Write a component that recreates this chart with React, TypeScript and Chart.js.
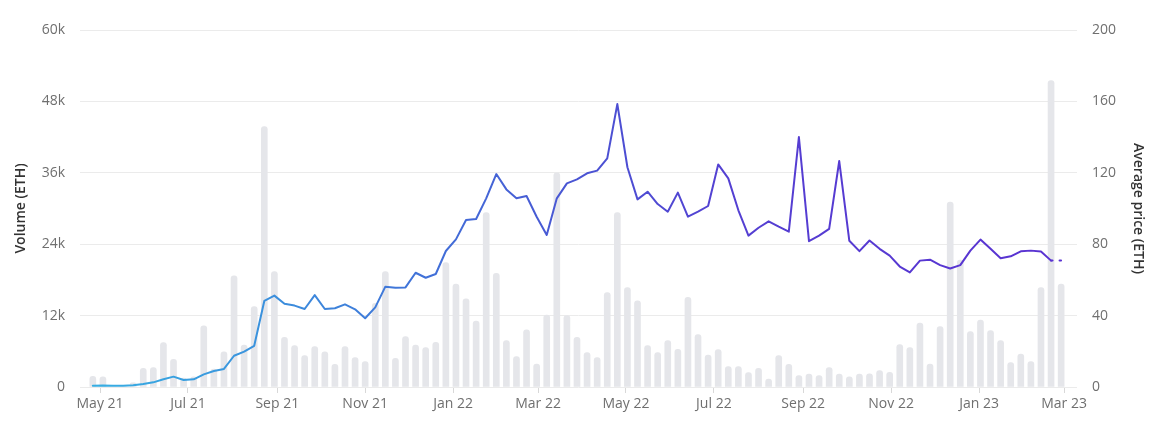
import React, { useEffect, useRef } from 'react';
import { Chart, registerables } from 'chart.js';

Chart.register(...registerables);

// First week of the series (weekly buckets)
const START_DATE = '2021-04-26';

// Weekly trading volume (ETH)
const volume = [
  1800, 1700, 0, 0, 700, 3150, 3250, 7450, 4650, 1500,
  1700, 10300, 3000, 5900, 18700, 7050, 13500, 43750, 19400, 8350,
  6950, 5270, 6780, 5930, 3810, 6780, 4930, 4260, 14060, 19400,
  4820, 8460, 7060, 6610, 7510, 20900, 17300, 14800, 11100, 29300,
  19100, 7800, 5100, 9600, 3870, 12100, 36000, 12000, 8350, 5770,
  4930, 15850, 29300, 16700, 14500, 6950, 5770, 7790, 6330, 15050,
  8800, 5380, 6280, 3420, 3420, 2430, 3150, 1340, 5270, 3810,
  1900, 2180, 1900, 3250, 2180, 1730, 2180, 2200, 2740, 2460,
  7150, 6640, 10750, 3840, 10140, 31100, 21350, 9300, 11260, 9470,
  7790, 4090, 5550, 4260, 16700, 51500, 17300,
];

// Weekly average price (ETH)
const price = [
  0.7, 0.8, 0.7, 0.7, 1.0, 1.7, 2.6, 4.3, 5.8, 3.9,
  4.3, 7.1, 9.0, 10.1, 17.5, 19.8, 23.1, 48.2, 51.2, 46.6,
  45.6, 43.7, 51.5, 43.7, 44.1, 46.3, 43.5, 38.5, 44.6, 56.2,
  55.6, 55.8, 64.0, 61.2, 63.3, 76.2, 82.7, 93.6, 94.1, 105.7,
  119.3, 110.7, 105.7, 107.0, 95.4, 85.2, 105.7, 114.1, 116.3, 119.7,
  121.2, 128.1, 158.5, 123.1, 105.1, 109.4, 102.5, 98.2, 108.9, 95.4,
  98.2, 101.4, 124.7, 116.9, 99.0, 84.8, 89.2, 92.8, 89.8, 87.0,
  140.0, 81.7, 84.8, 88.6, 126.6, 81.9, 76.1, 82.1, 77.4, 73.6,
  67.5, 64.2, 70.8, 71.3, 68.3, 66.4, 68.3, 76.4, 82.6, 77.4,
  72.1, 73.2, 76.0, 76.4, 75.9, 70.8, 70.8,
];

// X-axis tick dates and their labels
const tickDates = [
  '2021-05-01', '2021-07-01', '2021-09-01', '2021-11-01',
  '2022-01-01', '2022-03-01', '2022-05-01', '2022-07-01',
  '2022-09-01', '2022-11-01', '2023-01-01', '2023-03-01',
];
const tickLabels = [
  'May 21', 'Jul 21', 'Sep 21', 'Nov 21', 'Jan 22', 'Mar 22',
  'May 22', 'Jul 22', 'Sep 22', 'Nov 22', 'Jan 23', 'Mar 23',
];

const volumeTicks = [0, 12000, 24000, 36000, 48000, 60000];
const priceTicks = [0, 40, 80, 120, 160, 200];

const DAY_MS = 86400000;
const toDay = (s: string) =>
  (Date.parse(s + 'T00:00:00Z') - Date.parse(START_DATE + 'T00:00:00Z')) / DAY_MS;
const weekX = volume.map((_, i) => i * 7);
const tickX = tickDates.map(toDay);

const FONT = "'Open Sans', sans-serif";
const TICK_COLOR = '#6f6f6f';

export default function App() {
  const ref = useRef<HTMLCanvasElement | null>(null);

  useEffect(() => {
    if (!ref.current) return;
    const last = price.length - 1;
    const chart = new Chart(ref.current, {
      type: 'bar',
      data: {
        datasets: [
          {
            type: 'line',
            label: 'Average price (ETH)',
            data: weekX.map((x, i) => ({ x, y: price[i] })),
            yAxisID: 'y1',
            order: 0,
            borderWidth: 2,
            pointRadius: 0,
            pointHoverRadius: 0,
            tension: 0,
            borderJoinStyle: 'round',
            borderCapStyle: 'round',
            borderColor: (ctx: any) => {
              const { chart: c } = ctx;
              const area = c.chartArea;
              if (!area) return '#4b4fd3';
              const g = c.ctx.createLinearGradient(area.left, 0, area.right, 0);
              g.addColorStop(0, '#36b0e3');
              g.addColorStop(0.18, '#3b92dd');
              g.addColorStop(0.35, '#4170d8');
              g.addColorStop(0.5, '#4a54d3');
              g.addColorStop(0.65, '#5440d2');
              g.addColorStop(1, '#5a31d1');
              return g;
            },
            segment: {
              borderDash: (s: any) => (s.p1DataIndex === last ? [1.5, 7] : undefined),
            },
          } as any,
          {
            type: 'bar',
            label: 'Volume (ETH)',
            data: weekX.map((x, i) => ({ x, y: volume[i] })),
            yAxisID: 'y',
            order: 1,
            backgroundColor: '#e5e6ea',
            barThickness: 6,
            borderRadius: 3,
            borderSkipped: 'start',
          } as any,
        ],
      },
      options: {
        animation: false,
        responsive: true,
        maintainAspectRatio: false,
        layout: { padding: { top: 30, left: 0, right: 0, bottom: 0 } },
        plugins: { legend: { display: false }, tooltip: { enabled: false } },
        scales: {
          x: {
            type: 'linear',
            min: -8.9,
            max: 683,
            offset: false,
            afterBuildTicks: (axis: any) => {
              axis.ticks = tickX.map((v) => ({ value: v }));
            },
            afterFit: (s: any) => {
              s.height = 41;
            },
            ticks: {
              autoSkip: false,
              maxRotation: 0,
              padding: 3,
              color: TICK_COLOR,
              font: { family: FONT, size: 14 },
              callback: (v: any) => {
                const i = tickX.indexOf(Number(v));
                return i >= 0 ? tickLabels[i] : '';
              },
            },
            grid: {
              offset: false,
              drawOnChartArea: false,
              drawTicks: true,
              tickLength: 6,
              color: '#d8d8d8',
            },
            border: { display: false },
          },
          y: {
            position: 'left',
            min: 0,
            max: 60000,
            afterBuildTicks: (axis: any) => {
              axis.ticks = volumeTicks.map((v) => ({ value: v }));
            },
            afterFit: (s: any) => {
              s.width = 80;
            },
            ticks: {
              padding: 15,
              color: TICK_COLOR,
              font: { family: FONT, size: 14 },
              callback: (v: any) => (Number(v) === 0 ? '0' : `${Number(v) / 1000}k`),
            },
            grid: { color: '#ebebeb', drawTicks: false },
            border: { display: false },
            title: {
              display: true,
              text: 'Volume (ETH)',
              color: '#333333',
              font: { family: FONT, size: 14, weight: '600' },
              padding: { top: 13, bottom: 0 },
            },
          },
          y1: {
            position: 'right',
            min: 0,
            max: 200,
            afterBuildTicks: (axis: any) => {
              axis.ticks = priceTicks.map((v) => ({ value: v }));
            },
            afterFit: (s: any) => {
              s.width = 80;
            },
            ticks: {
              padding: 15,
              color: TICK_COLOR,
              font: { family: FONT, size: 14 },
            },
            grid: { display: false, drawTicks: false },
            border: { display: false },
            title: {
              display: true,
              text: 'Average price (ETH)',
              color: '#333333',
              font: { family: FONT, size: 14, weight: '600' },
              padding: { top: 11, bottom: 0 },
            },
          },
        },
      } as any,
    });
    return () => chart.destroy();
  }, []);

  return (
    <div style={{ position: 'fixed', left: 0, top: 0, width: 1157, height: 428 }}>
      <canvas ref={ref} />
    </div>
  );
}
